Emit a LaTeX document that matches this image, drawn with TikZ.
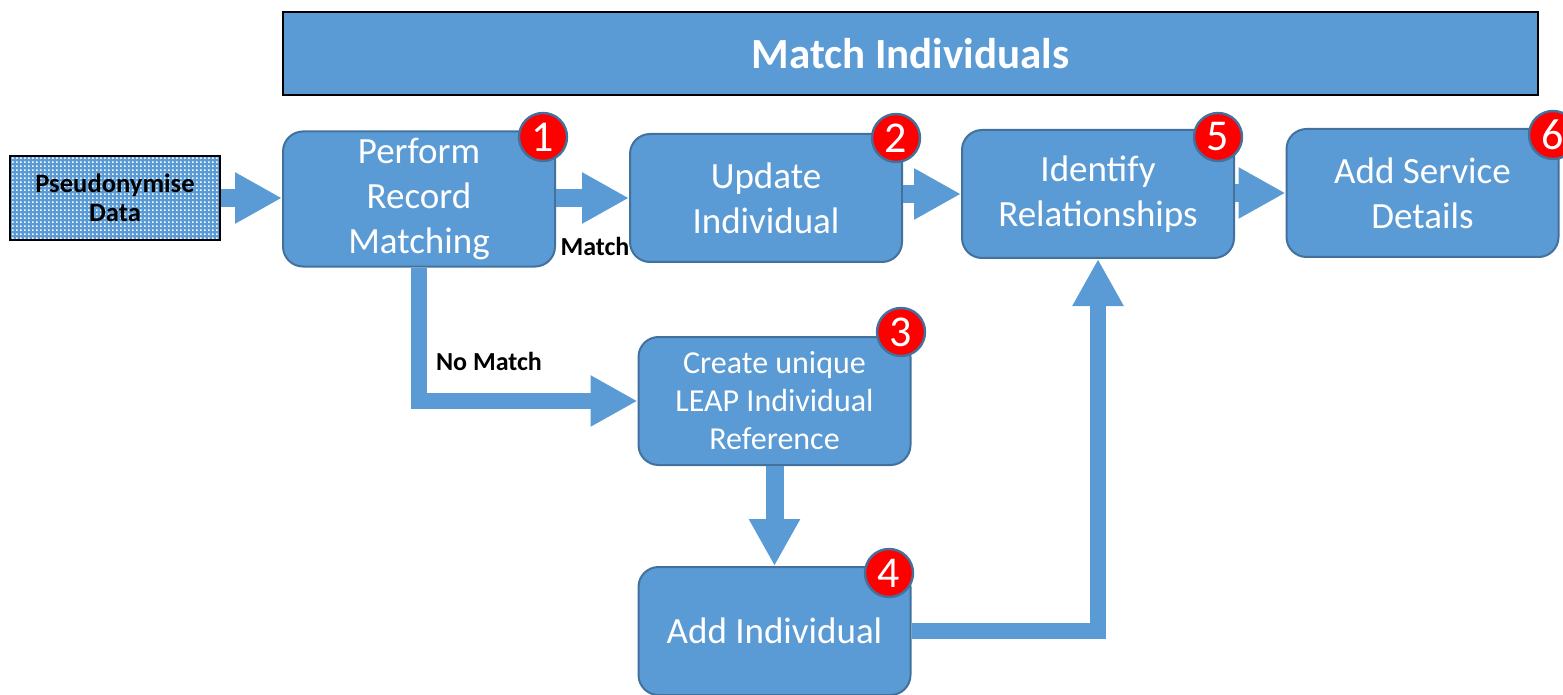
\documentclass[tikz,border=0pt]{standalone}
\usepackage{fontspec}
\setmainfont{Carlito}
\usepackage{tikz}
\usetikzlibrary{arrows.meta,patterns}

\definecolor{boxblue}{HTML}{5B9BD5}
\definecolor{edgeblue}{HTML}{41719C}
\definecolor{badgered}{HTML}{FF0000}

% fine white dots for the input box
\pgfdeclarepatternformonly{finedots}{\pgfpointorigin}{\pgfpoint{2pt}{2pt}}{\pgfpoint{2pt}{2pt}}{
    \pgfpathrectangle{\pgfpointorigin}{\pgfpoint{1pt}{1pt}}
    \pgfusepath{fill}
}

\begin{document}
\begin{tikzpicture}[x=0.5pt,y=-0.5pt,
    stepbox/.style={draw=edgeblue, fill=boxblue, line width=1pt, rounded corners=10pt,
        minimum width=136pt, minimum height=64pt, align=center, text=white,
        font=\fontsize{18.5}{22.5}\selectfont},
    badge/.style={circle, draw=edgeblue, fill=badgered, line width=1.2pt,
        minimum size=24pt, inner sep=0pt, text=white, font=\fontsize{22}{22}\selectfont},
    flow/.style={draw=boxblue, line width=9pt,
        -{Triangle[length=23.5pt,width=24pt]}},
    tag/.style={font=\bfseries\fontsize{13}{15}\selectfont}]

    \useasboundingbox (0,0) rectangle (1563,695);

    % Title bar
    \node[draw=black, fill=boxblue, line width=1pt, minimum width=627.5pt, minimum height=41.5pt,
        text=white, font=\bfseries\fontsize{21.5}{24}\selectfont] (title) at (910.5,53.5) {Match Individuals};

    % Input
    \node[draw=black, line width=1pt, preaction={fill=boxblue}, pattern=finedots, pattern color=white,
        minimum width=105pt, minimum height=42pt, align=center,
        font=\bfseries\fontsize{13.3}{14.5}\selectfont] (pseudo) at (115,198) {Pseudonymise\\Data};

    % Steps
    \node[stepbox] (perform) at (419,199) {Perform\\Record\\Matching};
    \node[stepbox] (update) at (766,198) {Update\\Individual};
    \node[stepbox] (identify) at (1098,194) {Identify\\Relationships};
    \node[stepbox] (service) at (1422.5,193) {Add Service\\Details};
    \node[stepbox, font=\fontsize{16}{19}\selectfont] (create) at (774.5,401) {Create unique\\LEAP Individual\\Reference};
    \node[stepbox] (addind) at (774.5,631) {Add Individual};

    % Numbers
    \node[badge] (n1) at (543,137) {1};
    \node[badge] (n2) at (896,138) {2};
    \node[badge] (n3) at (901,332) {3};
    \node[badge] (n4) at (889,573) {4};
    \node[badge] (n5) at (1218,137) {5};
    \node[badge] (n6) at (1553,135) {6};

    % Arrows
    \draw[flow] (pseudo.east) -- (pseudo.east -| perform.west);
    \draw[flow] (perform.east |- update) -- (update.west);
    \draw[flow] (update.east |- identify) -- (identify.west);
    \draw[flow] (identify.east |- service) -- (service.west);
    \draw[flow, line width=8pt] (perform.south) |- (create.west);
    \draw[flow] (create.south) -- (addind.north);
    \draw[flow, line width=8pt] (addind.east) -| (identify.south);

    \node[tag] (match) at (595,246) {Match};
    \node[tag] (nomatch) at (489,361) {No Match};
\end{tikzpicture}
\end{document}
